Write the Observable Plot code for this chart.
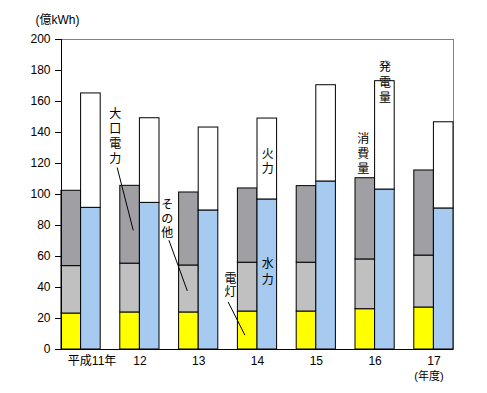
<!DOCTYPE html>
<html><head><meta charset="utf-8">
<script src="https://cdn.jsdelivr.net/npm/d3@7"></script>
<script src="https://cdn.jsdelivr.net/npm/@observablehq/plot@0.6"></script>
<style>body{margin:0;background:#fff}</style>
</head><body><div id="chart"></div>
<script>
// ---- data (億kWh) ----
const years = ["平成11年", "12", "13", "14", "15", "16", "17"];
const dento = [23.2, 23.9, 23.9, 24.5, 24.5, 26.0, 27.1];      // 電灯
const sonota = [30.6, 31.5, 30.3, 31.5, 31.5, 32.1, 33.5];     // その他
const ooguchi = [48.6, 50.2, 47.1, 47.9, 49.4, 52.4, 54.9];    // 大口電力
const suiryoku = [91.4, 94.6, 89.7, 96.8, 108.4, 103.2, 91.0]; // 水力
const karyoku = [73.8, 54.6, 53.5, 52.2, 62.1, 69.9, 55.6];    // 火力
const yTicks = [0, 20, 40, 60, 80, 100, 120, 140, 160, 180, 200];
const seriesNames = ["電灯", "その他", "大口電力", "水力", "火力"];
const seriesColors = ["#FFFF00", "#C0C0C0", "#A0A0A4", "#A6CAF0", "#FFFFFF"];

// ---- layout in group units: each year = 2 bars of width 0.5, gap 0.5 ----
const STEP = 1.5, BAR = 0.5;
const rows = [];
years.forEach((yr, i) => {
  const base = i * STEP;
  let acc = 0;
  [["電灯", dento], ["その他", sonota], ["大口電力", ooguchi]].forEach(([s, arr]) => {
    rows.push({year: yr, series: s, x1: base, x2: base + BAR, y1: acc, y2: acc + arr[i]});
    acc += arr[i];
  });
  acc = 0;
  [["水力", suiryoku], ["火力", karyoku]].forEach(([s, arr]) => {
    rows.push({year: yr, series: s, x1: base + BAR, x2: base + 2 * BAR, y1: acc, y2: acc + arr[i]});
    acc += arr[i];
  });
});
const centers = years.map((yr, i) => ({label: yr, x: i * STEP + BAR}));

// annotations (data coordinates)
const labels = [
  {text: "大\n口\n電\n力", x: 1.37, y: 137.9, lh: 1.25},
  {text: "そ\nの\n他", x: 2.70, y: 84.3, lh: 1.17},
  {text: "電\n灯", x: 4.31, y: 41.5, lh: 1.1},
  {text: "水\n力", x: 5.26, y: 50.8, lh: 1.3},
  {text: "火\n力", x: 5.26, y: 121.6, lh: 1.25},
  {text: "消\n費\n量", x: 7.70, y: 126.6, lh: 1.22},
  {text: "発\n電\n量", x: 8.25, y: 172.8, lh: 1.28}
];
const leaders = [
  {x1: 1.42, y1: 117.4, x2: 1.83, y2: 76.9},
  {x1: 2.74, y1: 70.5, x2: 3.21, y2: 37.8},
  {x1: 4.25, y1: 30.7, x2: 4.68, y2: 9.2}
];

const font = "'Liberation Sans','Noto Sans CJK JP',sans-serif";
const chart = Plot.plot({
  width: 487, height: 393,
  marginLeft: 61, marginRight: 34, marginTop: 39, marginBottom: 44,
  style: {fontFamily: font, fontSize: "12px", background: "#fff", color: "#000"},
  x: {domain: [0, (years.length - 1) * STEP + 2 * BAR], axis: null},
  y: {domain: [0, 200], axis: null},
  color: {domain: seriesNames, range: seriesColors},
  marks: [
    Plot.frame({stroke: "#808080"}),
    Plot.rect(rows, {x1: "x1", x2: "x2", y1: "y1", y2: "y2", fill: "series", stroke: "#000", strokeWidth: 1}),
    Plot.ruleX([0], {stroke: "#000"}),
    Plot.ruleY([0], {stroke: "#000"}),
    Plot.axisY({ticks: yTicks, tickSize: 6, tickPadding: 5, label: null, fontSize: 12}),
    Plot.text(centers.slice(0, 1), {x: "x", text: "label", frameAnchor: "bottom", dy: 15, dx: 11, fontSize: 12}),
    Plot.text(centers.slice(1), {x: "x", text: "label", frameAnchor: "bottom", dy: 15, fontSize: 12}),
    Plot.text(["(年度)"], {x: [centers[centers.length - 1].x], text: d => d, frameAnchor: "bottom", dy: 30, dx: -5, fontSize: 11}),
    Plot.text(["(億kWh)"], {text: d => d, frameAnchor: "top-left", dx: -26, dy: -24, textAnchor: "start", fontSize: 12}),
    Plot.link(leaders, {x1: "x1", y1: "y1", x2: "x2", y2: "y2", stroke: "#000", strokeWidth: 1}),
    ...labels.map(l => Plot.text([l], {x: "x", y: "y", text: "text", lineHeight: l.lh, fontSize: 12, fill: "#000"}))
  ]
});
document.getElementById("chart").appendChild(chart);
</script>
</body></html>
